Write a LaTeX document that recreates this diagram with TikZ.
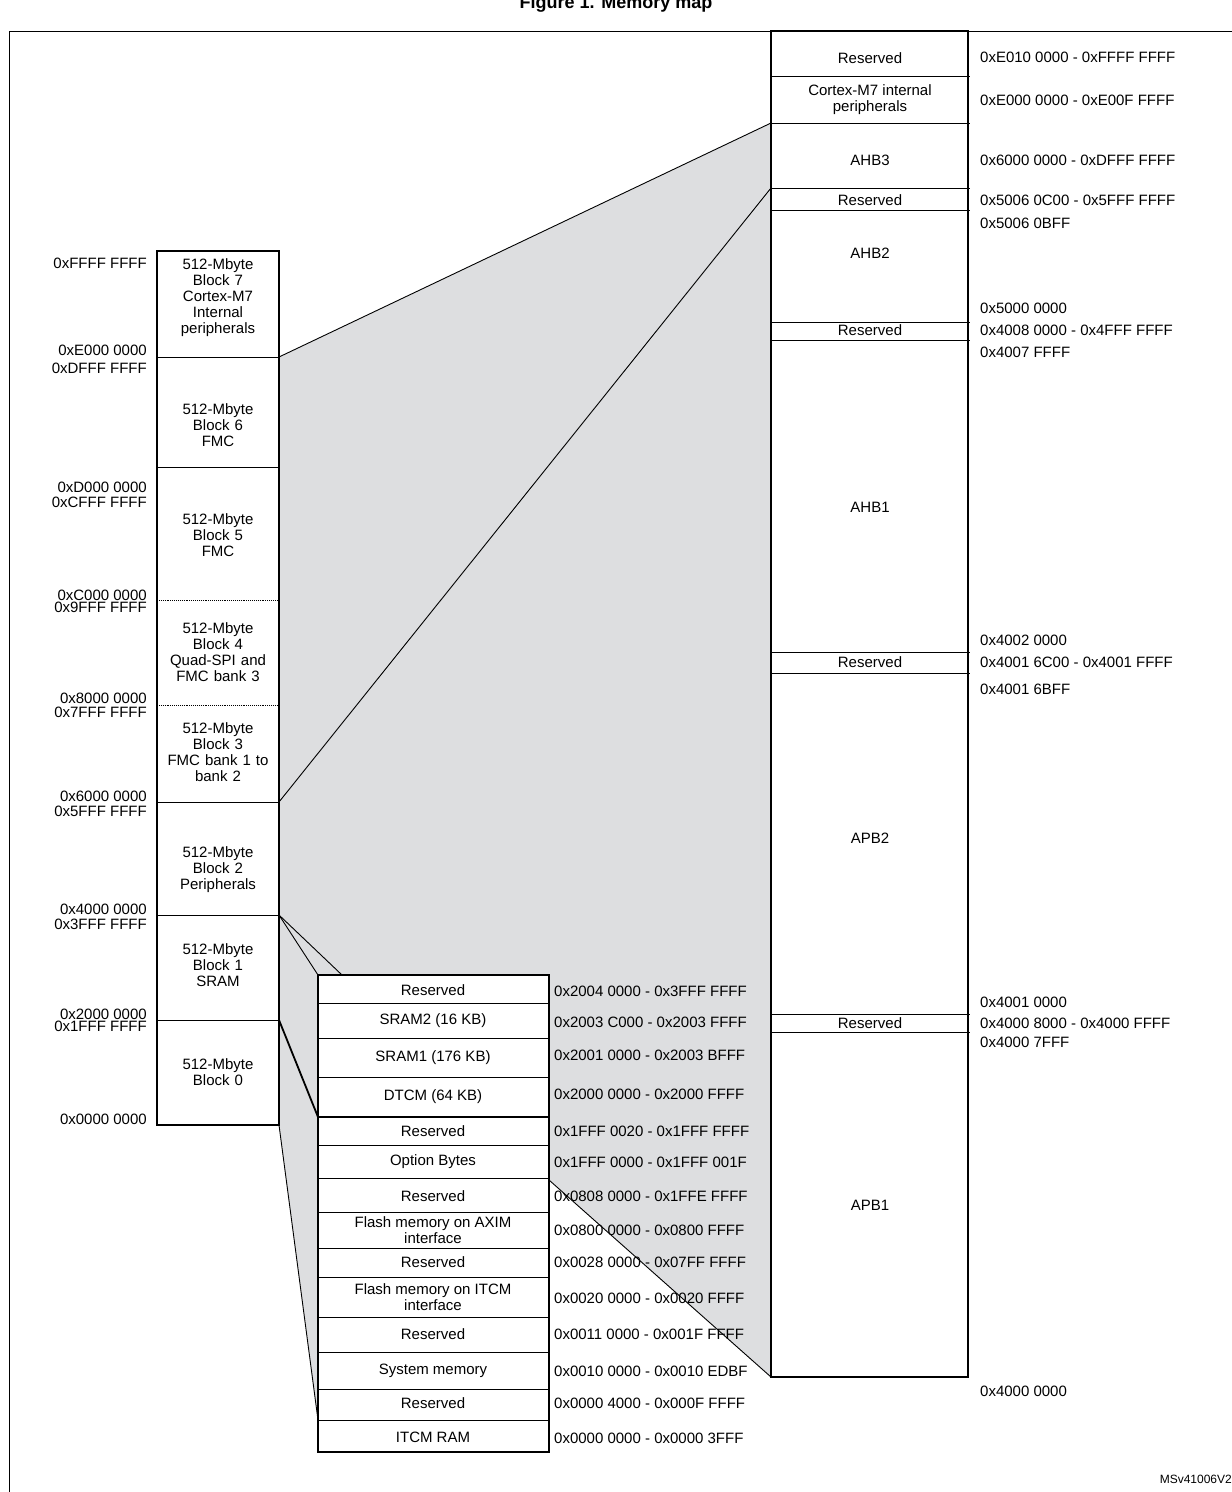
\documentclass[tikz,border=0pt]{standalone}
\usepackage{fontspec}
\setmainfont{Liberation Sans}
\definecolor{memgray}{RGB}{221,222,224}
\begin{document}
\begin{tikzpicture}[x=1pt,y=-1pt,
  t/.style={font=\fontsize{15}{16}\selectfont,inner sep=0pt,align=center},
  lab/.style={font=\fontsize{15}{16}\selectfont,inner sep=0pt,anchor=west},
  llab/.style={font=\fontsize{15}{14}\selectfont,inner sep=0pt,anchor=east},
  thick line/.style={line width=1.8pt},
  thin line/.style={line width=0.9pt}]
\useasboundingbox (0,0) rectangle (1232,1492);
\node[font=\bfseries\fontsize{18}{20}\selectfont,anchor=base] (title) at (616,8) {Figure 1. Memory map};
\draw[thin line] (9,1492) -- (9,31) -- (1232,31);
% gray area
\fill[memgray] (279,357) -- (771,123) -- (771,1377) -- (549,1180) -- (318,1420) -- (279,1125) -- cycle;
% right column
\fill[white] (771,31) rectangle (968,123);
\fill[white] (771,123) rectangle (968,1377);
\foreach \y in {76,123,188,210,322,340,652,673,1014,1032} \draw[thin line] (771,\y) -- (970,\y);
\draw[thick line] (771,31) rectangle (968,1377);
\foreach \y/\s in {58/Reserved,100/{Cortex-M7 internal\\peripherals},160/AHB3,200/Reserved,253/AHB2,330/Reserved,507/AHB1,662/Reserved,838/APB2,1023/Reserved,1205/APB1}
  \node[t] at (870,\y) {\s};
\foreach \y/\s in {57/{0xE010 0000 - 0xFFFF FFFF},100/{0xE000 0000 - 0xE00F FFFF},160/{0x6000 0000 - 0xDFFF FFFF},200/{0x5006 0C00 - 0x5FFF FFFF},223/{0x5006 0BFF},308/{0x5000 0000},330/{0x4008 0000 - 0x4FFF FFFF},352/{0x4007 FFFF},640/{0x4002 0000},662/{0x4001 6C00 - 0x4001 FFFF},689/{0x4001 6BFF},1002/{0x4001 0000},1023/{0x4000 8000 - 0x4000 FFFF},1042/{0x4000 7FFF},1391/{0x4000 0000}}
  \node[lab] at (980,\y) {\s};
% left block
\fill[white] (157,251) rectangle (279,1125);
\foreach \y in {357,467,802,915,1020} \draw[thin line] (157,\y) -- (279,\y);
\foreach \y in {600,705} \draw[thin line,densely dotted] (157,\y) -- (279,\y);
\draw[thick line] (157,251) rectangle (279,1125);
\foreach \y/\s in {298/{512-Mbyte\\Block 7\\Cortex-M7\\Internal\\peripherals},425/{512-Mbyte\\Block 6\\FMC},535/{512-Mbyte\\Block 5\\FMC},652/{512-Mbyte\\Block 4\\Quad-SPI and\\FMC bank 3},752/{512-Mbyte\\Block 3\\FMC bank 1 to\\bank 2},870/{512-Mbyte\\Block 2\\Peripherals},965/{512-Mbyte\\Block 1\\SRAM},1072/{512-Mbyte\\Block 0}}
  \node[t,text width=120pt] at (218,\y) {\s};
\foreach \y/\s in {263/{0xFFFF FFFF},350/{0xE000 0000},368/{0xDFFF FFFF},487/{0xD000 0000},502/{0xCFFF FFFF},595/{0xC000 0000},607/{0x9FFF FFFF},698/{0x8000 0000},712/{0x7FFF FFFF},796/{0x6000 0000},811/{0x5FFF FFFF},909/{0x4000 0000},924/{0x3FFF FFFF},1014/{0x2000 0000},1026/{0x1FFF FFFF},1119/{0x0000 0000}}
  \node[llab] at (147,\y) {\s};
% connector lines
\coordinate (b7) at (279,357); \coordinate (ahb3) at (771,123);
\coordinate (b3) at (279,802); \coordinate (res1) at (771,188);
\draw[thin line] (b7) -- (ahb3);
\draw[thin line] (b3) -- (res1);
\draw[thin line] (279,915) -- (318,975);
\draw[thin line] (279,915) -- (342,975);
\draw[thin line] (549,1180) -- (771,1377);
% sub block
\fill[white] (318,975) rectangle (549,1452);
\foreach \y in {1003,1038,1077,1145,1178,1212,1248,1277,1317,1352,1389,1420} \draw[thin line] (318,\y) -- (549,\y);
\draw[thick line] (318,975) rectangle (549,1117);
\draw[thick line] (318,1117) rectangle (549,1452);
\draw[thick line] (279,1020) -- (318,1117);
\draw[thin line] (279,1125) -- (318,1420);
\foreach \y/\s in {990/Reserved,1021/{SRAM2 (16 KB)},1058/{SRAM1 (176 KB)},1097/{DTCM (64 KB)},1131/Reserved,1162/{Option Bytes},1196/Reserved,1230/{Flash memory on AXIM\\interface},1262/Reserved,1297/{Flash memory on ITCM\\interface},1334/Reserved,1371/{System memory},1403/Reserved,1437/{ITCM RAM}}
  \node[t] at (433,\y) {\s};
\foreach \y/\s in {991/{0x2004 0000 - 0x3FFF FFFF},1022/{0x2003 C000 - 0x2003 FFFF},1055/{0x2001 0000 - 0x2003 BFFF},1094/{0x2000 0000 - 0x2000 FFFF},1131/{0x1FFF 0020 - 0x1FFF FFFF},1162/{0x1FFF 0000 - 0x1FFF 001F},1196/{0x0808 0000 - 0x1FFE FFFF},1230/{0x0800 0000 - 0x0800 FFFF},1262/{0x0028 0000 - 0x07FF FFFF},1298/{0x0020 0000 - 0x0020 FFFF},1334/{0x0011 0000 - 0x001F FFFF},1371/{0x0010 0000 - 0x0010 EDBF},1403/{0x0000 4000 - 0x000F FFFF},1438/{0x0000 0000 - 0x0000 3FFF}}
  \node[lab] at (554,\y) {\s};
\node[font=\fontsize{12}{12}\selectfont,inner sep=0pt,anchor=east] (id) at (1232,1479) {MSv41006V2};
\end{tikzpicture}
\end{document}
